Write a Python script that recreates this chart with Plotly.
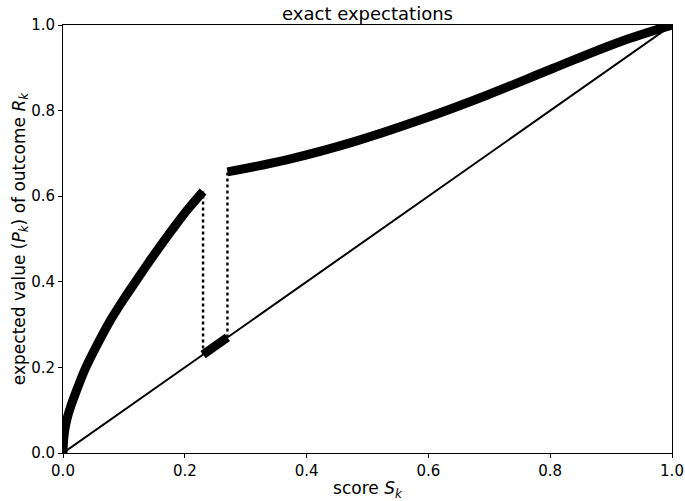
import plotly.graph_objects as go

# lower branch of the expectation curve (score below the gap)
low_x = [0.0, 0.001, 0.003, 0.007, 0.013, 0.022, 0.036, 0.055, 0.077, 0.10, 0.121, 0.14, 0.159, 0.18, 0.203, 0.23]
low_y = [0.0, 0.03, 0.055, 0.082, 0.11, 0.145, 0.195, 0.25, 0.308, 0.36, 0.404, 0.444, 0.482, 0.523, 0.566, 0.611]

# upper branch (score above the gap)
high_x = [0.27, 0.367, 0.477, 0.586, 0.696, 0.805, 0.915, 1.0]
high_y = [0.657, 0.685, 0.727, 0.778, 0.836, 0.899, 0.961, 1.0]

# short piece sitting on the diagonal inside the gap
gap_x = [0.23, 0.27]
gap_y = [0.23, 0.27]

# dotted connectors at the gap edges
jump_left_x = [0.23, 0.23]
jump_left_y = [0.23, 0.611]
jump_right_x = [0.27, 0.27]
jump_right_y = [0.27, 0.657]

diag = [0.0, 1.0]

fig = go.Figure()
fig.add_trace(go.Scatter(x=diag, y=diag, mode="lines", line=dict(color="black", width=2)))
fig.add_trace(go.Scatter(x=jump_left_x, y=jump_left_y, mode="lines",
                         line=dict(color="black", width=2.4, dash="dot")))
fig.add_trace(go.Scatter(x=jump_right_x, y=jump_right_y, mode="lines",
                         line=dict(color="black", width=2.4, dash="dot")))
fig.add_trace(go.Scatter(x=low_x, y=low_y, mode="lines", line=dict(color="black", width=9, shape="spline")))
fig.add_trace(go.Scatter(x=high_x, y=high_y, mode="lines", line=dict(color="black", width=9, shape="spline")))
fig.add_trace(go.Scatter(x=gap_x, y=gap_y, mode="lines", line=dict(color="black", width=9)))

axis_style = dict(
    range=[0, 1],
    dtick=0.2,
    tickformat=".1f",
    ticks="outside",
    ticklen=4,
    tickwidth=1,
    tickcolor="black",
    showline=True,
    linecolor="black",
    linewidth=1,
    mirror=True,
    showgrid=False,
    zeroline=False,
    automargin=False,
    tickfont=dict(size=15, color="black"),
)

fig.update_layout(
    width=685,
    height=501,
    margin=dict(l=63, r=13, t=25, b=48),
    plot_bgcolor="white",
    paper_bgcolor="white",
    showlegend=False,
    font=dict(family="DejaVu Sans", color="black"),
    title=dict(text="exact expectations", x=(63 + 672) / 2 / 685, xanchor="center",
               yref="paper", y=1, yanchor="bottom", pad=dict(b=5), font=dict(size=18, color="black")),
    xaxis=dict(axis_style, title=dict(text="score <i>S<sub>k</sub></i>",
                                      font=dict(size=17, color="black"), standoff=4)),
    yaxis=dict(axis_style, title=dict(text="expected value (<i>P<sub>k</sub></i>) of outcome <i>R<sub>k</sub></i>",
                                      font=dict(size=17, color="black"), standoff=1)),
)

# drop the default page margin so the figure sits at the window's corner
fig.write_html("out.html", config={"displayModeBar": False},
               post_script="document.body.style.margin='0px';")
